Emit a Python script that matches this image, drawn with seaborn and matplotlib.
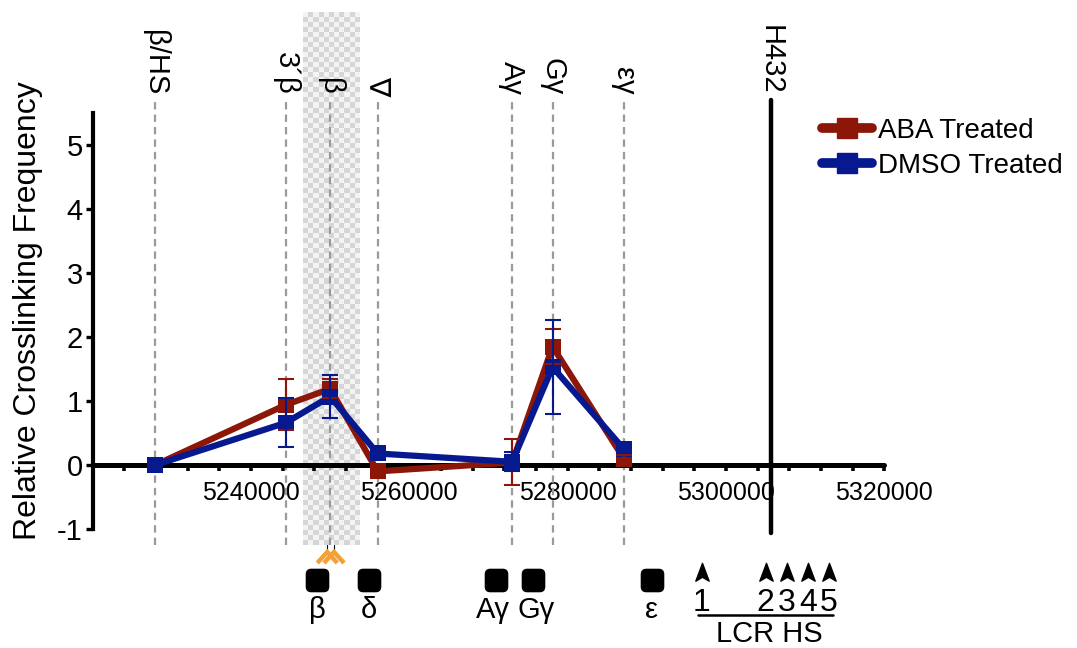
import numpy as np
import pandas as pd
import matplotlib
matplotlib.use("Agg")
import matplotlib.pyplot as plt
import seaborn as sns
from matplotlib.lines import Line2D
from matplotlib.colors import ListedColormap
from matplotlib.patches import FancyBboxPatch
from matplotlib.path import Path

# ---------------- data ----------------
site_labels = ["β/HS", "3´β", "β", "∇", "Aγ", "Gγ", "εγ"]
site_pos = [5227900, 5244400, 5250000, 5256000, 5273000, 5278100, 5287100]
aba_mean = [0.00, 0.94, 1.19, -0.10, 0.04, 1.85, 0.10]
aba_err = [0.00, 0.40, 0.15, 0.10, 0.36, 0.27, 0.05]
dmso_mean = [0.00, 0.66, 1.07, 0.18, 0.05, 1.53, 0.25]
dmso_err = [0.00, 0.38, 0.33, 0.05, 0.15, 0.73, 0.05]
anchor_label = "H432"
anchor_pos = 5305700
highlight_span = (5246570, 5253770)
xtick_vals = [5240000, 5260000, 5280000, 5300000, 5320000]
xtick_labels = ["5240000", "5260000", "5280000", "5300000", "5320000"]
ytick_vals = [-1, 0, 1, 2, 3, 4, 5]
ytick_labels = ["-1", "0", "1", "2", "3", "4", "5"]
gene_labels = ["β", "δ", "Aγ", "Gγ", "ε"]
gene_pos = [5248340, 5254880, 5270950, 5275590, 5290640]
gene_label_pos = [5248340, 5254880, 5270600, 5276000, 5290640]
hs_labels = ["1", "2", "3", "4", "5"]
hs_pos = [5296940, 5305030, 5307690, 5310370, 5313030]
primer_pos = [5249640, 5250490]

RED = "#8c1607"
BLUE = "#07198f"

sns.set_theme(style="white")
plt.rcParams["font.family"] = ["Liberation Sans", "DejaVu Sans"]
plt.rcParams["text.color"] = "black"
plt.rcParams["axes.labelcolor"] = "black"
plt.rcParams["xtick.color"] = "black"
plt.rcParams["ytick.color"] = "black"
NARROW = ["Liberation Sans Narrow", "Liberation Sans", "DejaVu Sans"]

W, H = 1077, 648
fig = plt.figure(figsize=(W / 100, H / 100), dpi=100)

# axes geometry (pixel calibration)
X0_PX, X1_PX = 92.7, 884.2
Y0_PX, PPU = 465.0, 64.0
ax = fig.add_axes([X0_PX / W, 0.0, (X1_PX - X0_PX) / W, 1.0])
ax.patch.set_alpha(0)


def ypx(p):
    return (Y0_PX - p) / PPU


XMIN, XMAX = 5220000, 5320000
UPX = (XMAX - XMIN) / (X1_PX - X0_PX)  # data units per pixel in x

# shaded checker region
cell = 5
ny = int((545 - 12) / cell)
nx = int((highlight_span[1] - highlight_span[0]) / UPX / cell)
checker = np.indices((ny, nx)).sum(axis=0) % 2
ax.imshow(checker, cmap=ListedColormap(["#f3f3f3", "#d6d6d6"]),
          extent=[highlight_span[0], highlight_span[1], ypx(545), ypx(12)],
          aspect="auto", interpolation="nearest", zorder=0)

# dashed site lines and labels
for lab, x in zip(site_labels, site_pos):
    ax.plot([x, x], [ypx(545), ypx(97)], color="#9a9a9a", lw=1.6,
            dashes=(3.3, 2.3), zorder=1)
    ax.text(x, ypx(95), lab, rotation=-90, ha="center", va="bottom",
            fontsize=21, color="black")

# anchor line
ax.plot([anchor_pos, anchor_pos], [ypx(533), ypx(100)], color="black", lw=3.2,
        zorder=2, solid_capstyle="round")
ax.text(anchor_pos, ypx(95), anchor_label, rotation=-90, ha="center",
        va="bottom", fontsize=21, color="black")

# lines with seaborn
df = pd.DataFrame({
    "pos": site_pos * 2,
    "value": aba_mean + dmso_mean,
    "treatment": ["ABA Treated"] * len(site_pos) + ["DMSO Treated"] * len(site_pos),
})
sns.lineplot(data=df, x="pos", y="value", hue="treatment",
             palette={"ABA Treated": RED, "DMSO Treated": BLUE},
             marker="s", markersize=11, markeredgewidth=0, linewidth=4.5,
             sort=False, legend=False, ax=ax, zorder=4)

ax.errorbar(site_pos, aba_mean, yerr=aba_err, fmt="none", ecolor=RED,
            elinewidth=1.5, capsize=5.5, capthick=1.5, zorder=5)
ax.errorbar(site_pos, dmso_mean, yerr=dmso_err, fmt="none", ecolor=BLUE,
            elinewidth=1.5, capsize=5.5, capthick=1.5, zorder=6)

# axes styling
ax.set_xlim(XMIN, XMAX)
ax.set_ylim(ypx(H), ypx(0))
for s in ["top", "right"]:
    ax.spines[s].set_visible(False)
ax.spines["bottom"].set_position(("data", 0))
ax.spines["bottom"].set_bounds(XMIN, XMAX)
ax.spines["bottom"].set_linewidth(3.6)
ax.spines["bottom"].set_capstyle("round")
ax.spines["bottom"].set_zorder(3)
ax.spines["left"].set_bounds(-1, 5.5)
ax.spines["left"].set_linewidth(3.0)
ax.spines["left"].set_color("black")
ax.spines["bottom"].set_color("black")

ax.set_xticks(xtick_vals)
ax.set_xticklabels(xtick_labels, fontsize=18)
minor = [v for v in range(XMIN + 4000, XMAX, 4000) if v not in xtick_vals]
ax.set_xticks(minor, minor=True)
ax.set_yticks(ytick_vals)
ax.set_yticklabels(ytick_labels, fontsize=21)
ax.tick_params(axis="x", which="both", direction="out", length=4.5, width=2.6,
               color="black", pad=7, bottom=True, labelcolor="black")
ax.tick_params(axis="y", which="major", direction="out", length=5, width=2.4,
               color="black", pad=2, left=True, labelcolor="black")
ax.set_xlabel("")
ax.set_ylabel("Relative Crosslinking Frequency", fontsize=23, color="black",
              va="center")
ax.yaxis.set_label_coords((28 - X0_PX) / (X1_PX - X0_PX), 1 - 311 / H)
ax.grid(False)

# legend
handles = [
    Line2D([], [], color=RED, lw=7, marker="s", markersize=15,
           solid_capstyle="round", label="ABA Treated"),
    Line2D([], [], color=BLUE, lw=7, marker="s", markersize=15,
           solid_capstyle="round", label="DMSO Treated"),
]
fig.legend(handles=handles, loc="upper left", bbox_to_anchor=(822 / W, 1 - 118 / H),
           frameon=False, fontsize=20, handlelength=1.8, handletextpad=0.2,
           labelspacing=0.33, borderpad=0, borderaxespad=0, labelcolor="black")

# gene map below
rs = FancyBboxPatch((-0.5, -0.5), 1, 1, boxstyle="round,pad=0,rounding_size=0.22")
rpath = rs.get_path()
ax.plot(gene_pos, [ypx(580)] * len(gene_pos), linestyle="none", marker=rpath,
        markersize=16, color="black", clip_on=False)
for lab, x in zip(gene_labels, gene_label_pos):
    ax.text(x, ypx(618), lab, ha="center", va="baseline", fontsize=21,
            family=NARROW, color="black")

arrow = Path([(0, 1), (0.6, -0.6), (0, -0.25), (-0.6, -0.6), (0, 1)],
             [Path.MOVETO, Path.LINETO, Path.LINETO, Path.LINETO, Path.CLOSEPOLY])
ax.plot(hs_pos, [ypx(574)] * len(hs_pos), linestyle="none", marker=arrow,
        markersize=16, color="black")
for lab, x in zip(hs_labels, hs_pos):
    ax.text(x, ypx(611), lab, ha="center", va="baseline", fontsize=23,
            family=NARROW, color="black")
ax.plot([hs_pos[0] - 4 * UPX, hs_pos[-1] + 4 * UPX], [ypx(615), ypx(615)],
        color="black", lw=1.8)
ax.text((hs_pos[0] + hs_pos[-1]) / 2 + 4 * UPX, ypx(642), "LCR HS", ha="center",
        va="baseline", fontsize=21, family=NARROW, color="black")

# primer chevrons
for x in primer_pos:
    ax.plot([x, x], [ypx(545), ypx(551)], color="black", lw=0.8)
    ax.plot([x - 10 * UPX, x, x + 10 * UPX], [ypx(563), ypx(552), ypx(563)],
            color="#f5a033", lw=3.2, solid_joinstyle="miter", solid_capstyle="butt")

fig.savefig("out.png", dpi=100)
